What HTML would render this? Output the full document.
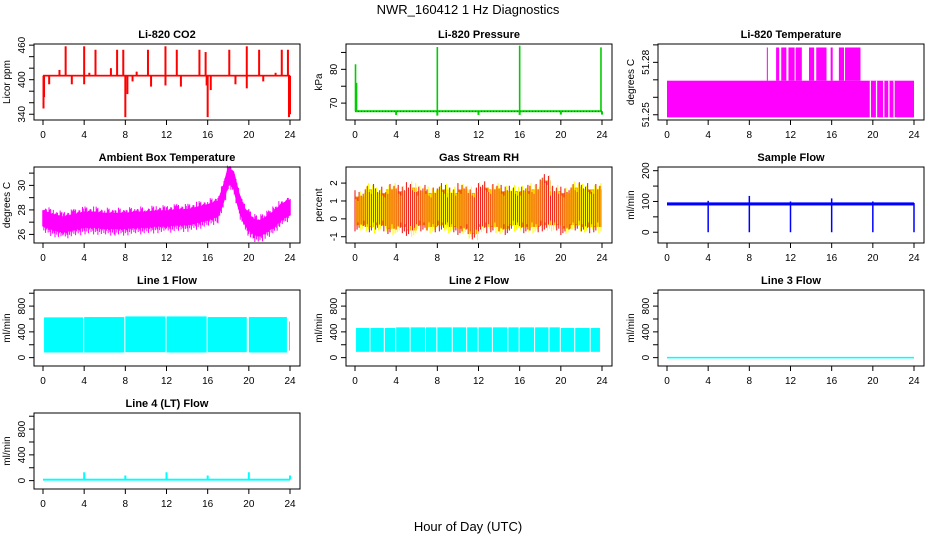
<!DOCTYPE html>
<html><head><meta charset="utf-8"><style>
body{margin:0;background:#fff}
svg{font-family:"Liberation Sans",sans-serif;display:block}
</style></head><body>
<svg id="c" width="936" height="540" xmlns="http://www.w3.org/2000/svg">
<text x="468" y="14" text-anchor="middle" font-size="13">NWR_160412  1 Hz Diagnostics</text>
<text x="468" y="531" text-anchor="middle" font-size="13">Hour of Day (UTC)</text>
</svg>
<script>
const xTicks=[0,4,8,12,16,20,24];
const co2Base=407;
const co2UpHours=[1.6,2.2,4.0,4.5,5.1,6.6,7.2,7.8,9.1,10.2,11.9,13.0,15.2,15.8,18.1,19.8,21.0,22.6,23.2,23.8];
const co2UpVals=[417,458,458,412,452,420,452,452,414,452,458,452,452,448,452,458,452,412,452,452];
const co2DnHours=[0.05,0.1,0.6,2.8,4.0,8.0,8.2,8.7,10.5,11.9,13.4,15.9,16.0,16.3,18.7,19.8,21.4,23.9,24.0];
const co2DnVals=[350,370,392,392,392,335,375,397,388,390,388,390,335,382,392,385,397,335,340];
const presBase=67.6;
const presSpikeHours=[0.05,0.15,8.0,16.0,23.9];
const presSpikeVals=[81.5,76,86.6,87,86.5];
const presDipHours=[4.0,8.0,12.0,16.0,20.0,24.0];
const presDipVals=[66.5,66.3,66.5,66.5,66.6,66.6];
const ltHighStarts=[9.7,10.6,11.1,11.8,12.5,13.8,14.5,15.9,16.7,17.3];
const ltHighEnds=[9.8,10.9,11.6,12.4,13.1,14.3,15.5,16.1,17.2,18.8];
const ltGaps=[19.7,20.3,21.0,21.5,22.0];
const ambHours=[0,1,2,3,4,5,6,7,8,9,10,11,12,13,14,15,16,17,17.5,18,18.5,19,19.5,20,20.5,21,21.5,22,22.5,23,23.5,24];
const ambVals=[27.3,27.0,26.8,27.0,27.2,27.2,27.1,27.1,27.1,27.2,27.2,27.3,27.3,27.4,27.4,27.6,27.8,28.1,29.2,30.8,30.5,28.8,27.6,27.0,26.6,26.5,26.7,27.0,27.3,27.7,28.0,28.2];
const rhMax=[1.6,2.0,1.8,2.0,1.9,2.1,1.9,1.8,2.0,1.8,2.0,1.8,2.1,2.0,1.9,1.9,1.9,2.0,2.5,1.9,1.8,2.1,2.0,2.0];
const rhMin=[-0.7,-0.8,-0.7,-0.9,-0.8,-1.0,-0.7,-0.8,-0.7,-0.8,-0.9,-1.2,-0.8,-0.8,-0.9,-0.7,-0.8,-0.8,-0.7,-0.7,-0.9,-0.7,-0.8,-0.8];
const sfBase=92;
const sfDipHours=[4,8,12,16,20,24];
const sfDipVals=[0,0,0,0,0,0];
const sfUpVals=[102,118,100,110,100,95];
const l1Starts=[0.1,4.0,8.0,12.0,16.0,20.0,23.9];
const l1Ends=[3.9,7.9,11.9,15.9,19.8,23.7,24.0];
const l1Top=[625,630,640,640,630,630,560];
const l1Bot=[80,80,85,80,85,80,110];
const l2Starts=[0.1,1.5,2.9,4.0,5.4,6.9,8.0,9.5,10.9,12.0,13.4,14.9,16.0,17.5,18.9,20.0,21.4,22.9];
const l2Ends=[1.4,2.8,3.9,5.3,6.8,7.9,9.4,10.8,11.9,13.3,14.8,15.9,17.4,18.8,19.9,21.3,22.8,23.8];
const l2Top=[460,460,460,470,470,470,470,470,470,470,470,470,470,470,470,460,460,460];
const l2Bot=[90,90,90,90,90,90,90,90,90,90,90,90,90,90,90,90,90,90];
const l3Level=0;
const l4Level=15;
const l4SpikeHours=[4,8,12,16,20,24];
const l4SpikeVals=[130,80,130,80,130,80];

const NS="http://www.w3.org/2000/svg";
const svgEl=document.getElementById('c');
const jag=[0,0.35,0.1,0.5,0.2,0.05,0.4,0.15,0.3,0.6];
function mk(tag,attrs,parent){const e=document.createElementNS(NS,tag);for(const k in attrs)e.setAttribute(k,attrs[k]);(parent||svgEl).appendChild(e);return e;}
const colL=[34,346,658], rowT=[44,167,290,413], PW=266, PH=76;
function panel(col,row,title,ylab,ymin,ymax,yticks,ylabels,name){
  const g=mk('g',{});
  
  
  const L=colL[col],T=rowT[row],B=T+PH;
  const xs=h=>L+9+h/24*(PW-19);
  const ys=v=>B-(v-ymin)/(ymax-ymin)*PH;
  const t=mk('text',{x:L+PW/2,y:T-6,'text-anchor':'middle','font-size':11,'font-weight':'bold'},g);t.textContent=title;
  
  
  const plot=mk('g',{},g);
  
  
  const box=mk('rect',{x:L,y:T,width:PW,height:PH,fill:'none',stroke:'#000','stroke-width':1},g);
  
  
  const ax=mk('g',{stroke:'#000','stroke-width':1},g);
  
  
  mk('line',{x1:xs(0),x2:xs(24),y1:B,y2:B},ax);
  xTicks.forEach(h=>{mk('line',{x1:xs(h),x2:xs(h),y1:B,y2:B+5},ax);
    const tt=mk('text',{x:xs(h),y:B+18,'text-anchor':'middle','font-size':10,stroke:'none'},ax);tt.textContent=h;});
  const ay=mk('g',{stroke:'#000'},g);
  
  
  yticks.forEach(v=>mk('line',{x1:L-5,x2:L,y1:ys(v),y2:ys(v)},ay));
  mk('line',{x1:L,x2:L,y1:ys(yticks[0]),y2:ys(yticks[yticks.length-1])},ay);
  ylabels.forEach(v=>{const y=ys(v);const tt=mk('text',{x:L-9,y:y,'text-anchor':'middle','font-size':10,stroke:'none',transform:`rotate(-90 ${L-9} ${y})`},ay);tt.textContent=v;});
  const yl=mk('text',{x:L-24,y:T+PH/2,'text-anchor':'middle','font-size':10,transform:`rotate(-90 ${L-24} ${T+PH/2})`},g);yl.textContent=ylab;
  
  
  return {xs,ys,plot};
}
function vline(p,h,v1,v2,col,w){mk('line',{x1:p.xs(h),x2:p.xs(h),y1:p.ys(v1),y2:p.ys(v2),stroke:col,'stroke-width':w||1.5},p.plot);}
function band(p,h1,h2,v1,v2,col){const x=p.xs(h1),y=p.ys(v2);mk('rect',{x:x,y:y,width:Math.max(1,p.xs(h2)-x),height:Math.max(1,p.ys(v1)-y),fill:col},p.plot);}

let p=panel(0,0,'Li-820 CO2','Licor ppm',330,462,[340,360,380,400,420,440,460],[340,400,460],'co2');
band(p,0,24,co2Base-1.5,co2Base+1.5,'#f00');
co2UpHours.forEach((h,i)=>vline(p,h,co2Base,co2UpVals[i],'#f00',2));
co2DnHours.forEach((h,i)=>vline(p,h,co2Base,co2DnVals[i],'#f00',2));

p=panel(1,0,'Li-820 Pressure','kPa',65,87.5,[70,75,80,85],[70,80],'pressure');
band(p,0,24,presBase-0.3,presBase+0.3,'#0d0');
mk('line',{x1:p.xs(0),x2:p.xs(24),y1:p.ys(presBase),y2:p.ys(presBase),stroke:'#040','stroke-width':0.6,'stroke-dasharray':'1 2'},p.plot);
presSpikeHours.forEach((h,i)=>vline(p,h,presBase,presSpikeVals[i],'#0c0',1.6));
presDipHours.forEach((h,i)=>vline(p,h,presBase,presDipVals[i],'#0c0',2));

p=panel(2,0,'Li-820 Temperature','degrees C',51.247,51.2905,[51.25,51.26,51.27,51.28,51.29],[51.25,51.28],'li820-temp');
band(p,0,24,51.2485,51.2695,'#f0f');
ltHighStarts.forEach((s,i)=>band(p,s,ltHighEnds[i],51.2695,51.2885,'#f0f'));
ltGaps.forEach(h=>band(p,h,h+0.12,51.2485,51.2695,'#fff'));

p=panel(0,1,'Ambient Box Temperature','degrees C',25.3,31.5,[26,27,28,29,30,31],[26,28,30],'ambient-temp');
const topPts=[],botPts=[];
ambHours.forEach((h,i)=>{topPts.push(p.xs(h)+','+p.ys(ambVals[i]+0.6));botPts.unshift(p.xs(h)+','+p.ys(ambVals[i]-0.6));});
mk('polygon',{points:topPts.concat(botPts).join(' '),fill:'#f0f',stroke:'#f0f','stroke-width':1.5},p.plot);
for(let i=0;i<ambHours.length-1;i++){const n=Math.round((ambHours[i+1]-ambHours[i])*12);
  for(let k=0;k<n;k++){const f=k/n,h=ambHours[i]+f*(ambHours[i+1]-ambHours[i]);const c=ambVals[i]+f*(ambVals[i+1]-ambVals[i]);
    const j=jag[(i*7+k)%10];vline(p,h,c-0.6-j,c+0.6+jag[(i*3+k*7)%10]*0.8,'#f0f',1);}}

p=panel(1,1,'Gas Stream RH','percent',-1.35,2.9,[-1,0,1,2],[-1,0,1,2],'gas-rh');
rhMin.forEach((v,i)=>band(p,i,i+1,v+0.35,rhMax[i]-0.35,'#f4a000'));
rhMax.forEach((v,i)=>{for(let k=0;k<10;k++){const h=i+k/10;vline(p,h,rhMin[i]+jag[(k+i)%10],v-jag[(k*3+i)%10],k%2?'#ff0':'#e22',1.1);}});

p=panel(2,1,'Sample Flow','ml/min',-35,212,[0,50,100,150,200],[0,100,200],'sample-flow');
band(p,0,24,sfBase-5,sfBase+5,'#00f');
sfDipHours.forEach((h,i)=>{vline(p,h,sfBase,sfDipVals[i],'#00f',1.5);vline(p,h,sfBase,sfUpVals[i],'#00f',1.5);});

const fTicks=[0,200,400,600,800,1000],fLabs=[0,400,800];
p=panel(0,2,'Line 1 Flow','ml/min',-130,1050,fTicks,fLabs,'line1-flow');
l1Starts.forEach((s,i)=>band(p,s,l1Ends[i],l1Bot[i],l1Top[i],'#0ff'));
p=panel(1,2,'Line 2 Flow','ml/min',-130,1050,fTicks,fLabs,'line2-flow');
l2Starts.forEach((s,i)=>band(p,s,l2Ends[i],l2Bot[i],l2Top[i],'#0ff'));
p=panel(2,2,'Line 3 Flow','ml/min',-130,1050,fTicks,fLabs,'line3-flow');
band(p,0,24,l3Level-12,l3Level+12,'#0ff');
p=panel(0,3,'Line 4 (LT) Flow','ml/min',-130,1050,fTicks,fLabs,'line4-flow');
band(p,0,24,l4Level-15,l4Level+15,'#0ff');
l4SpikeHours.forEach((h,i)=>vline(p,h,l4Level,l4SpikeVals[i],'#0ff',2));
</script>
</body></html>
